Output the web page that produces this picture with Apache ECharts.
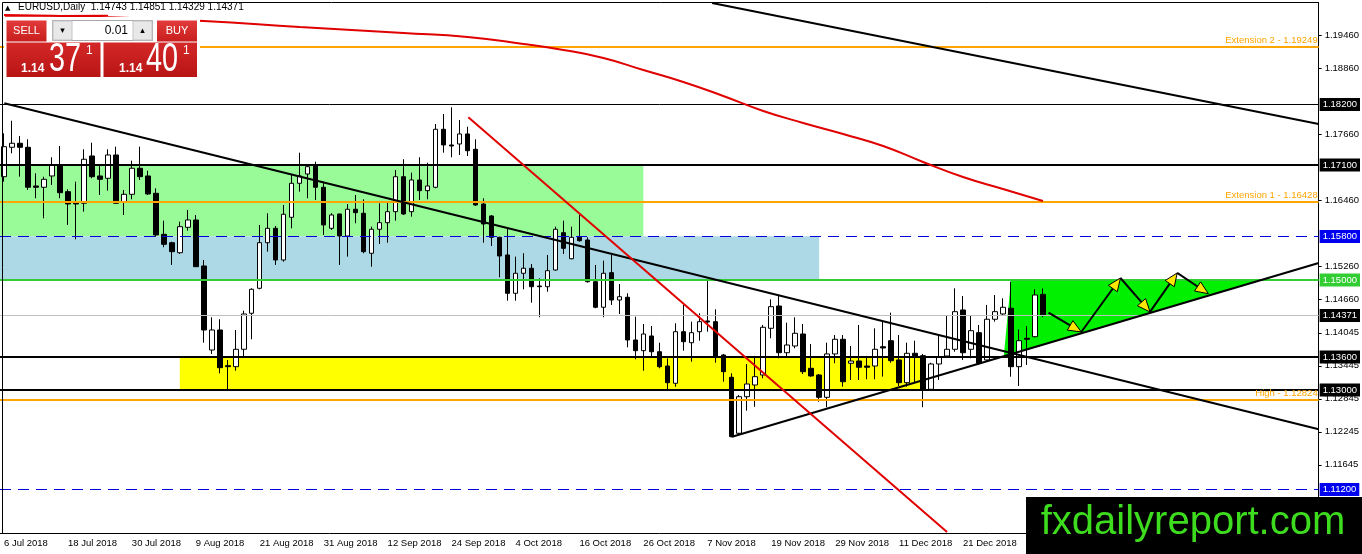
<!DOCTYPE html>
<html>
<head>
<meta charset="utf-8">
<title>EURUSD Daily</title>
<script src="https://cdn.jsdelivr.net/npm/echarts@6/dist/echarts.min.js"></script>
<style>
    html, body { margin: 0; padding: 0; background: #fff; }
    #chart { width: 1362px; height: 554px; }
</style>
</head>
<body>
<div id="chart"></div>
<script>
// daily bars, index 0 = 6 Jul 2018, last bar (130) is the running one
var opens = [
    1.16883, 1.17418, 1.17491, 1.17418, 1.16714, 1.16691, 1.16896, 1.17096, 1.16611, 1.16400,
    1.16400, 1.17260, 1.16896, 1.16854, 1.17278, 1.16429, 1.16563, 1.17036, 1.16896, 1.16581,
    1.15836, 1.15683, 1.15501, 1.15963, 1.16096, 1.15260, 1.13732, 1.14096, 1.13447, 1.13429,
    1.13745, 1.14400, 1.14854, 1.15683, 1.15945, 1.15369, 1.16145, 1.16763, 1.16932, 1.17096,
    1.16691, 1.15945, 1.16205, 1.15805, 1.16291, 1.16218, 1.15491, 1.15927, 1.16047, 1.16247,
    1.16883, 1.16247, 1.16823, 1.16629, 1.16691, 1.17745, 1.17460, 1.17478, 1.17660, 1.17381,
    1.16387, 1.16169, 1.15781, 1.15460, 1.14763, 1.15127, 1.15218, 1.14896, 1.14883, 1.15187,
    1.15865, 1.15392, 1.15781, 1.15732, 1.14974, 1.14509, 1.15138, 1.14641, 1.14691, 1.13914,
    1.13720, 1.13987, 1.13701, 1.13441, 1.13127, 1.14065, 1.13865, 1.14065, 1.14260, 1.14247,
    1.13641, 1.13236, 1.12218, 1.12883, 1.13096, 1.13278, 1.14127, 1.14532, 1.13683, 1.13805,
    1.14023, 1.13400, 1.13278, 1.12872, 1.13660, 1.13927, 1.13491, 1.13532, 1.13441, 1.13441,
    1.13792, 1.13901, 1.13551, 1.13138, 1.13672, 1.13629, 1.13018, 1.13478, 1.13623, 1.13745,
    1.14460, 1.13745, 1.14047, 1.13551, 1.14291, 1.14387, 1.14491, 1.13429, 1.13945, 1.13974,
    1.14743
];
var closes = [
    1.17429, 1.17491, 1.17418, 1.16691, 1.16691, 1.16836, 1.17096, 1.16592, 1.16387, 1.16387,
    1.17200, 1.16883, 1.16836, 1.17278, 1.16400, 1.16563, 1.17036, 1.16883, 1.16569, 1.15823,
    1.15654, 1.15520, 1.15974, 1.16096, 1.15247, 1.14096, 1.14096, 1.13411, 1.13429, 1.13745,
    1.14387, 1.14836, 1.15683, 1.15945, 1.15369, 1.16200, 1.16763, 1.16896, 1.17065, 1.16691,
    1.16005, 1.16187, 1.15805, 1.16291, 1.16229, 1.15520, 1.15927, 1.16047, 1.16247, 1.16883,
    1.16205, 1.16823, 1.16629, 1.16714, 1.17745, 1.17460, 1.17441, 1.17660, 1.17356, 1.16369,
    1.16023, 1.15781, 1.15441, 1.14763, 1.15127, 1.15218, 1.14883, 1.14883, 1.15174, 1.15927,
    1.15581, 1.15781, 1.15720, 1.14974, 1.14509, 1.15127, 1.14641, 1.14701, 1.13914, 1.13720,
    1.14023, 1.13701, 1.13429, 1.13138, 1.14065, 1.13883, 1.14047, 1.14247, 1.14241, 1.13611,
    1.13338, 1.12156, 1.12883, 1.13114, 1.13247, 1.14145, 1.14520, 1.13683, 1.13823, 1.14036,
    1.13338, 1.13260, 1.12872, 1.13660, 1.13927, 1.13156, 1.13532, 1.13418, 1.13418, 1.13745,
    1.13769, 1.13538, 1.13138, 1.13672, 1.13611, 1.13005, 1.13478, 1.13611, 1.13745, 1.14429,
    1.13683, 1.14083, 1.13491, 1.14291, 1.14429, 1.14509, 1.13429, 1.13901, 1.13927, 1.14732,
    1.14371
];
var lows = [
    1.16792, 1.17309, 1.16883, 1.16641, 1.16491, 1.16127, 1.16732, 1.16491, 1.16005, 1.15745,
    1.16247, 1.16854, 1.16551, 1.16629, 1.16387, 1.16187, 1.16472, 1.16823, 1.16551, 1.15792,
    1.15600, 1.15278, 1.15478, 1.15901, 1.15240, 1.13865, 1.13660, 1.13309, 1.13018, 1.13356,
    1.13623, 1.13927, 1.14836, 1.15520, 1.15278, 1.15338, 1.15945, 1.16611, 1.16491, 1.16460,
    1.15823, 1.15914, 1.15278, 1.15429, 1.16036, 1.15491, 1.15247, 1.15660, 1.15683, 1.16083,
    1.16187, 1.16156, 1.16460, 1.16472, 1.16672, 1.17320, 1.17236, 1.17278, 1.17260, 1.16351,
    1.15683, 1.15623, 1.15054, 1.14629, 1.14629, 1.14836, 1.14592, 1.14327, 1.14792, 1.15174,
    1.15478, 1.15381, 1.15701, 1.14956, 1.14491, 1.14327, 1.14551, 1.14387, 1.13781, 1.13563,
    1.13356, 1.13611, 1.13400, 1.13018, 1.13065, 1.13720, 1.13520, 1.13901, 1.14065, 1.13501,
    1.13156, 1.12145, 1.12205, 1.12629, 1.12701, 1.13218, 1.13945, 1.13581, 1.13611, 1.13763,
    1.13296, 1.13247, 1.12792, 1.12691, 1.13491, 1.13065, 1.13187, 1.13187, 1.13200, 1.13200,
    1.13247, 1.13501, 1.13078, 1.13065, 1.13127, 1.12691, 1.13005, 1.13187, 1.13611, 1.13701,
    1.13551, 1.13581, 1.13460, 1.13520, 1.14247, 1.14369, 1.13247, 1.13078, 1.13460, 1.13963,
    1.14329
];
var highs = [
    1.17672, 1.17901, 1.17623, 1.17563, 1.16945, 1.16883, 1.17236, 1.17441, 1.16654, 1.16792,
    1.17381, 1.17501, 1.17096, 1.17381, 1.17429, 1.16641, 1.17174, 1.17429, 1.16992, 1.16672,
    1.16083, 1.15701, 1.16065, 1.16278, 1.16187, 1.15369, 1.14327, 1.14291, 1.13551, 1.14096,
    1.14447, 1.14854, 1.16005, 1.16218, 1.15987, 1.16369, 1.16914, 1.17320, 1.17096, 1.17156,
    1.16792, 1.16218, 1.16210, 1.16387, 1.16551, 1.16472, 1.15974, 1.16400, 1.16411, 1.17005,
    1.17200, 1.16956, 1.17236, 1.17138, 1.17841, 1.18023, 1.18145, 1.17914, 1.17792, 1.17563,
    1.16491, 1.16187, 1.15792, 1.15945, 1.15429, 1.15491, 1.15296, 1.15036, 1.15460, 1.15974,
    1.16083, 1.15974, 1.16187, 1.15781, 1.15278, 1.15356, 1.15460, 1.14932, 1.14763, 1.14338,
    1.14205, 1.14169, 1.13865, 1.13581, 1.14218, 1.14551, 1.14247, 1.14400, 1.15005, 1.14472,
    1.13660, 1.13309, 1.12914, 1.13478, 1.13611, 1.14187, 1.14654, 1.14732, 1.14229, 1.14327,
    1.14205, 1.13841, 1.13296, 1.13865, 1.14005, 1.14005, 1.13805, 1.14187, 1.13611, 1.14127,
    1.14247, 1.14411, 1.14005, 1.13865, 1.13901, 1.13660, 1.13501, 1.14005, 1.14369, 1.14854,
    1.14714, 1.14369, 1.14187, 1.14551, 1.14732, 1.14672, 1.14974, 1.14109, 1.14169, 1.14836,
    1.14851
];

// one label every 8 bars
var tickLabels = ['6 Jul 2018', '18 Jul 2018', '30 Jul 2018', '9 Aug 2018', '21 Aug 2018', '31 Aug 2018',
    '12 Sep 2018', '24 Sep 2018', '4 Oct 2018', '16 Oct 2018', '26 Oct 2018', '7 Nov 2018',
    '19 Nov 2018', '29 Nov 2018', '11 Dec 2018', '21 Dec 2018'];
var priceTicks = [1.19460, 1.18860, 1.17660, 1.16460, 1.15260, 1.14660, 1.14045, 1.13445, 1.12845, 1.12245, 1.11645];

// horizontal levels drawn on the chart
var levelPrices = [1.19249, 1.18200, 1.17100, 1.16428, 1.15800, 1.15000, 1.14371, 1.13600, 1.13000, 1.12824, 1.11200];
var levelTags = ['Extension 2 - 1.19249', '', '', 'Extension 1 - 1.16428', '', '', '', '', '', 'High - 1.12824', ''];

// zones: bar from / bar to / upper price / lower price
var zoneFrom = [-0.5, -0.5, 22.0];
var zoneTo = [80.0, 102.0, 115.1];
var zoneTop = [1.17100, 1.15800, 1.13600];
var zoneBottom = [1.15800, 1.15000, 1.13000];

// trend lines, two anchors each (bar, price)
var descLine = [[0.04, 1.18218], [164.5, 1.12290]];
var upperLine = [[88.6, 1.20041], [164.5, 1.17841]];
var risingLine = [[91.1, 1.12156], [164.5, 1.15314]];
var redTrend = [[58.1, 1.17963], [118.0, 1.10423]];

// moving average
var maBars = [0, 12, 25, 37, 50, 58, 65, 70, 75, 80, 85, 90, 95, 100, 105, 110, 115, 120, 125, 130];
var maValues = [1.19823, 1.19787, 1.19714, 1.19605, 1.19496, 1.19423, 1.19296, 1.19187, 1.19041, 1.18823,
    1.18605, 1.18351, 1.18078, 1.17860, 1.17660, 1.17441, 1.17151, 1.16878, 1.16660, 1.16441];

// green triangle and the projected zig-zag
var triBars = [125.1, 126.0, 157.2];
var triPrices = [1.13620, 1.15000, 1.15000];
var pathBars = [130.7, 134.8, 139.7, 143.4, 146.8, 150.7];
var pathPrices = [1.14411, 1.14060, 1.15041, 1.14424, 1.15133, 1.14756];

var FONT = 'Liberation Sans';
var SLOTS = 165;
var Y_MIN = 1.10405, Y_MAX = 1.20041;

var slots = [];
for (var s = 0; s < SLOTS; s++) {
    slots.push(s);
}
var candles = opens.map(function (o, i) {
    return [o, closes[i], lows[i], highs[i]];
});

function showTick(idx) {
    return idx % 8 === 0 && idx / 8 < tickLabels.length;
}

// look of each level (same order as levelPrices)
var levelLook = [
    {color: '#FFA500', width: 2},
    {color: '#000', width: 1, box: '#000'},
    {color: '#000', width: 2, box: '#000'},
    {color: '#FFA500', width: 2},
    {color: '#0000DD', width: 1, dashed: true, box: '#0000F0'},
    {color: '#32CD32', width: 2, box: '#32CD32'},
    {color: '#C0C0C0', width: 1, box: '#000'},
    {color: '#000', width: 2, box: '#000'},
    {color: '#000', width: 2, box: '#000'},
    {color: '#FFA500', width: 2},
    {color: '#0000DD', width: 1, dashed: true, box: '#0000F0'}
];

var zones = zoneFrom.map(function (f, i) {
    return [f, zoneTo[i], zoneTop[i], zoneBottom[i]];
});
var zoneColors = ['#98FB98', '#ADD8E6', '#FFFF00'];

var pathSegs = [];
for (var k = 0; k < pathBars.length - 1; k++) {
    pathSegs.push([pathBars[k], pathPrices[k], pathBars[k + 1], pathPrices[k + 1]]);
}

function trendSeries(points, color) {
    return {
        type: 'line', xAxisIndex: 1, data: points, showSymbol: false, symbol: 'none',
        lineStyle: {color: color, width: 2}, z: 4, silent: true
    };
}

// horizontal line with its price box on the axis (or a tag inside the chart)
function renderLevel(params, api) {
    var i = params.dataIndex;
    var look = levelLook[i];
    var cs = params.coordSys;
    var y = api.coord([0, api.value(1)])[1];
    y = look.width % 2 ? Math.round(y) + 0.5 : Math.round(y);
    var right = cs.x + cs.width;
    var children = [{
        type: 'line',
        shape: {x1: cs.x, y1: y, x2: right, y2: y},
        style: {stroke: look.color, lineWidth: look.width, lineDash: look.dashed ? [11, 7] : null}
    }];
    if (levelTags[i]) {
        children.push({
            type: 'text', x: right - 1, y: y - 2,
            style: {text: levelTags[i], fill: '#FFA500', font: '9.5px "Liberation Sans"',
                align: 'right', verticalAlign: 'bottom', textAlign: 'right', textVerticalAlign: 'bottom'}
        });
    } else {
        children.push({
            type: 'text', x: right + 1, y: y,
            style: {text: api.value(1).toFixed(5), fill: '#fff', font: '9.5px "Liberation Sans"',
                backgroundColor: look.box, padding: [2, 3, 1, 3],
                align: 'left', verticalAlign: 'middle', textAlign: 'left', textVerticalAlign: 'middle'}
        });
    }
    return {type: 'group', children: children};
}

var chart = echarts.init(document.getElementById('chart'));

var option = {
    animation: false,
    backgroundColor: '#fff',
    grid: {left: -1, right: 43, top: 3, bottom: 21},
    xAxis: [
        {
            type: 'category',
            data: slots,
            boundaryGap: true,
            axisLine: {onZero: false, lineStyle: {color: '#000', width: 1}},
            axisTick: {alignWithLabel: true, interval: showTick, length: 4, lineStyle: {color: '#000'}},
            axisLabel: {
                interval: showTick,
                formatter: function (v, idx) {
                    return tickLabels[idx / 8];
                },
                align: 'left', margin: 5, color: '#000', fontSize: 9.5, fontFamily: FONT
            },
            splitLine: {show: false}
        },
        {type: 'value', min: -0.5, max: SLOTS - 0.5, show: false}
    ],
    yAxis: {
        type: 'value',
        position: 'right',
        min: Y_MIN,
        max: Y_MAX,
        axisLine: {show: true, onZero: false, lineStyle: {color: '#000'}},
        axisTick: {show: true, customValues: priceTicks, length: 3, lineStyle: {color: '#000'}},
        axisLabel: {
            customValues: priceTicks,
            formatter: function (v) {
                return v.toFixed(5);
            },
            margin: 6, color: '#000', fontSize: 9.5, fontFamily: FONT
        },
        splitLine: {show: false}
    },
    series: [
        {
            // coloured zones
            type: 'custom', xAxisIndex: 1, z: 1, silent: true,
            data: zones,
            encode: {x: [0, 1], y: [2, 3]},
            renderItem: function (params, api) {
                var a = api.coord([api.value(0), api.value(2)]);
                var b = api.coord([api.value(1), api.value(3)]);
                return {
                    type: 'rect',
                    shape: {x: a[0], y: a[1], width: b[0] - a[0], height: b[1] - a[1]},
                    style: {fill: zoneColors[params.dataIndex]}
                };
            }
        },
        {
            // green triangle
            type: 'custom', xAxisIndex: 1, z: 1, silent: true,
            data: [[triBars[0], triPrices[0]]],
            encode: {x: 0, y: 1},
            renderItem: function (params, api) {
                var pts = triBars.map(function (b, i) {
                    return api.coord([b, triPrices[i]]);
                });
                return {type: 'polygon', shape: {points: pts}, style: {fill: '#00F000'}};
            }
        },
        {
            type: 'candlestick',
            name: 'EURUSD',
            data: candles,
            barWidth: 5,
            z: 3,
            silent: true,
            itemStyle: {
                color: '#fff', color0: '#000',
                borderColor: '#000', borderColor0: '#000', borderWidth: 1
            }
        },
        {
            // horizontal levels
            type: 'custom', xAxisIndex: 1, z: 4, silent: true, clip: false,
            data: levelPrices.map(function (p, i) { return [0, p]; }),
            encode: {x: 0, y: 1},
            renderItem: renderLevel
        },
        trendSeries(descLine, '#000'),
        trendSeries(upperLine, '#000'),
        trendSeries(risingLine, '#000'),
        trendSeries(redTrend, '#E00000'),
        {
            type: 'line', xAxisIndex: 1, name: 'MA',
            data: maBars.map(function (b, i) { return [b, maValues[i]]; }),
            smooth: true, showSymbol: false, symbol: 'none',
            lineStyle: {color: '#E00000', width: 2}, z: 4, silent: true
        },
        {
            // projected path with arrow heads
            type: 'custom', xAxisIndex: 1, z: 5, silent: true,
            data: pathSegs,
            encode: {x: [0, 2], y: [1, 3]},
            renderItem: function (params, api) {
                var a = api.coord([api.value(0), api.value(1)]);
                var b = api.coord([api.value(2), api.value(3)]);
                var dx = b[0] - a[0], dy = b[1] - a[1];
                var len = Math.sqrt(dx * dx + dy * dy);
                var ux = dx / len, uy = dy / len;
                var hl = 13, hw = 5.5;
                var bx = b[0] - ux * hl, by = b[1] - uy * hl;
                return {
                    type: 'group',
                    children: [
                        {type: 'line', shape: {x1: a[0], y1: a[1], x2: bx, y2: by}, style: {stroke: '#000', lineWidth: 2}},
                        {
                            type: 'polygon',
                            shape: {points: [[b[0], b[1]], [bx - uy * hw, by + ux * hw], [bx + uy * hw, by - ux * hw]]},
                            style: {fill: '#FFE600', stroke: '#000', lineWidth: 1}
                        }
                    ]
                };
            }
        }
    ],
    graphic: [
        // chart frame (left / top)
        {type: 'polyline', z: 50, shape: {points: [[2.5, 533], [2.5, 2.5], [1319, 2.5]]},
            style: {stroke: '#000', lineWidth: 1, fill: null}},
        // header
        {type: 'text', z: 60, x: 5, y: 5, style: {text: '▲', fill: '#000', font: '7px "DejaVu Sans"'}},
        {type: 'text', z: 60, x: 18, y: 2, style: {text: 'EURUSD,Daily  1.14743 1.14851 1.14329 1.14371',
            fill: '#000', font: '10px "Liberation Sans"'}},
        {type: 'line', z: 60, shape: {x1: 5, y1: 16, x2: 108, y2: 15.5}, style: {stroke: '#E00000', lineWidth: 1.5}},
        // one click trading panel
        {type: 'rect', z: 60, shape: {x: 4, y: 17, width: 196, height: 62}, style: {fill: '#fff'}},
        {type: 'rect', z: 61, shape: {x: 6.5, y: 20.5, width: 40, height: 21},
            style: {fill: new echarts.graphic.LinearGradient(0, 0, 0, 1, [{offset: 0, color: '#E23A3A'}, {offset: 1, color: '#C81E1E'}])}},
        {type: 'text', z: 62, x: 26.5, y: 31, style: {text: 'SELL', fill: '#fff', font: '11px "Liberation Sans"',
            textAlign: 'center', textVerticalAlign: 'middle', align: 'center', verticalAlign: 'middle'}},
        {type: 'rect', z: 61, shape: {x: 52.5, y: 20.5, width: 100, height: 20}, style: {fill: '#fff', stroke: '#A8A8A8'}},
        {type: 'rect', z: 62, shape: {x: 53, y: 21, width: 19, height: 19}, style: {fill: '#E8E8E8', stroke: '#C4C4C4'}},
        {type: 'rect', z: 62, shape: {x: 133, y: 21, width: 19, height: 19}, style: {fill: '#E8E8E8', stroke: '#C4C4C4'}},
        {type: 'text', z: 63, x: 62.5, y: 31, style: {text: '▾', fill: '#000', font: '9px "DejaVu Sans"',
            textAlign: 'center', textVerticalAlign: 'middle', align: 'center', verticalAlign: 'middle'}},
        {type: 'text', z: 63, x: 142.5, y: 31, style: {text: '▴', fill: '#000', font: '9px "DejaVu Sans"',
            textAlign: 'center', textVerticalAlign: 'middle', align: 'center', verticalAlign: 'middle'}},
        {type: 'text', z: 63, x: 128, y: 31, style: {text: '0.01', fill: '#000', font: '12px "Liberation Sans"',
            textAlign: 'right', textVerticalAlign: 'middle', align: 'right', verticalAlign: 'middle'}},
        {type: 'rect', z: 61, shape: {x: 157, y: 20.5, width: 40, height: 21},
            style: {fill: new echarts.graphic.LinearGradient(0, 0, 0, 1, [{offset: 0, color: '#E23A3A'}, {offset: 1, color: '#C81E1E'}])}},
        {type: 'text', z: 62, x: 177, y: 31, style: {text: 'BUY', fill: '#fff', font: '11px "Liberation Sans"',
            textAlign: 'center', textVerticalAlign: 'middle', align: 'center', verticalAlign: 'middle'}},
        {type: 'rect', z: 61, shape: {x: 6.5, y: 42.5, width: 94, height: 34.5},
            style: {fill: new echarts.graphic.LinearGradient(0, 0, 0, 1, [{offset: 0, color: '#D42828'}, {offset: 1, color: '#B81414'}])}},
        {type: 'rect', z: 61, shape: {x: 103.5, y: 42.5, width: 93.5, height: 34.5},
            style: {fill: new echarts.graphic.LinearGradient(0, 0, 0, 1, [{offset: 0, color: '#D42828'}, {offset: 1, color: '#B81414'}])}},
        {type: 'text', z: 62, x: 21, y: 75, style: {text: '1.14', fill: '#fff', font: 'bold 12px "Liberation Sans"',
            textVerticalAlign: 'bottom', verticalAlign: 'bottom'}},
        {type: 'text', z: 62, x: 49, y: 80, scaleX: 0.72, style: {text: '37', fill: '#fff', font: '40px "Liberation Sans"',
            textVerticalAlign: 'bottom', verticalAlign: 'bottom'}},
        {type: 'text', z: 62, x: 86, y: 45, style: {text: '1', fill: '#fff', font: '12px "Liberation Sans"'}},
        {type: 'text', z: 62, x: 119, y: 75, style: {text: '1.14', fill: '#fff', font: 'bold 12px "Liberation Sans"',
            textVerticalAlign: 'bottom', verticalAlign: 'bottom'}},
        {type: 'text', z: 62, x: 146, y: 80, scaleX: 0.72, style: {text: '40', fill: '#fff', font: '40px "Liberation Sans"',
            textVerticalAlign: 'bottom', verticalAlign: 'bottom'}},
        {type: 'text', z: 62, x: 183, y: 45, style: {text: '1', fill: '#fff', font: '12px "Liberation Sans"'}},
        // watermark
        {type: 'rect', z: 70, shape: {x: 1026, y: 497, width: 336, height: 57}, style: {fill: '#000'}},
        {type: 'text', z: 71, x: 1193, y: 523, style: {text: 'fxdailyreport.com', fill: '#3DDC1E', font: '40px "Liberation Sans"',
            textAlign: 'center', textVerticalAlign: 'middle', align: 'center', verticalAlign: 'middle'}}
    ]
};

chart.setOption(option);
</script>
</body>
</html>
